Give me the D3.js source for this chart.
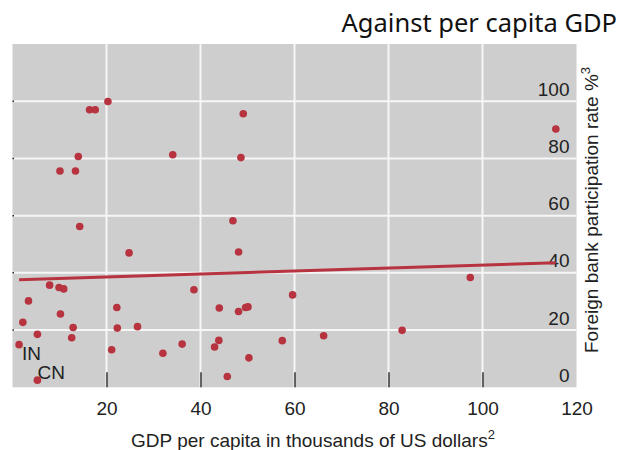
<!DOCTYPE html>
<html>
<head>
<meta charset="utf-8">
<script src="https://cdn.jsdelivr.net/npm/d3@7"></script>
<style>
  html, body { margin: 0; padding: 0; background: #ffffff; }
  svg { display: block; }
</style>
</head>
<body>
<svg id="chart" width="625" height="450"></svg>
<script>
// ---- data ----
const gdpPerCapita = [20.3, 16.4, 17.6, 14.0, 10.1, 13.4, 14.3, 24.8, 7.9, 9.9, 10.9, 3.4, 22.2, 10.2, 2.2, 12.9, 22.3, 26.6, 5.3, 12.6, 1.4, 21.1, 5.3, 32.0, 49.1, 34.1, 48.6, 46.9, 48.1, 38.6, 59.6, 44.0, 48.1, 49.6, 50.1, 43.9, 43.0, 36.1, 57.4, 50.3, 45.7, 66.2, 82.9, 97.4, 115.6];
const foreignBankRate = [99.9, 97.0, 97.0, 80.7, 75.6, 75.6, 56.2, 47.0, 35.7, 34.9, 34.4, 30.2, 27.9, 25.6, 22.7, 20.9, 20.7, 21.2, 18.5, 17.3, 14.9, 13.1, 2.5, 11.9, 95.6, 81.3, 80.3, 58.2, 47.3, 34.1, 32.3, 27.7, 26.5, 27.9, 28.1, 16.4, 14.1, 15.1, 16.3, 10.3, 3.8, 18.0, 19.9, 38.4, 90.3];
const countryCodes = ["", "", "", "", "", "", "", "", "", "", "", "", "", "", "", "", "", "", "", "", "IN", "", "CN", "", "", "", "", "", "", "", "", "", "", "", "", "", "", "", "", "", "", "", "", "", ""];
const trendX = [1.4, 115.6];
const trendY = [37.6, 43.5];
const xTicks = [20, 40, 60, 80, 100, 120];
const yTicks = [0, 20, 40, 60, 80, 100];
const titleText = "Against per capita GDP";
const xTitle = "GDP per capita in thousands of US dollars";
const xTitleSup = "2";
const yTitle = "Foreign bank participation rate %";
const yTitleSup = "3";

// ---- layout ----
const RED = "#b6333f";
const BG = "#cdcecd";
const pLeft = 12.5, pRight = 576.5, pTop = 44, pBottom = 387.3;
const svg = d3.select("#chart");
const x = d3.scaleLinear().domain([0, 120]).range([pLeft, pRight]);
const y = d3.scaleLinear().domain([0, 120]).range([pBottom, pTop]);
const font = "'Liberation Sans', Arial, sans-serif";

svg.append("rect").attr("x", pLeft).attr("y", pTop)
  .attr("width", pRight - pLeft).attr("height", pBottom - pTop)
  .attr("fill", BG);

// gridlines
svg.append("g").selectAll("line").data(xTicks.filter(d => d < 120)).join("line")
  .attr("x1", d => x(d)).attr("x2", d => x(d)).attr("y1", pTop).attr("y2", pBottom)
  .attr("stroke", "#f6f6f6").attr("stroke-width", 2);
svg.append("g").selectAll("line").data(yTicks.filter(d => d > 0)).join("line")
  .attr("y1", d => y(d)).attr("y2", d => y(d)).attr("x1", pLeft).attr("x2", pRight)
  .attr("stroke", "#f6f6f6").attr("stroke-width", 2);

// small left ticks
svg.append("g").selectAll("line").data(yTicks.filter(d => d > 0)).join("line")
  .attr("y1", d => y(d)).attr("y2", d => y(d)).attr("x1", pLeft).attr("x2", pLeft + 1.5)
  .attr("stroke", "#222").attr("stroke-width", 1.5);

// x axis (inward ticks)
const xAxis = d3.axisBottom(x).tickValues(xTicks).tickSizeInner(-15).tickSizeOuter(0).tickPadding(0);
const gx = svg.append("g").attr("transform", `translate(0,${pBottom})`).call(xAxis);
gx.select(".domain").remove();
gx.selectAll(".tick line").attr("stroke", "#333").attr("stroke-width", 1.5)
  .attr("display", d => d >= 120 ? "none" : null);
gx.selectAll(".tick text").attr("y", 28).attr("dy", 0)
  .attr("font-family", font).attr("font-size", 19).attr("fill", "#222");

// y axis (labels inside on the right, above gridlines)
const yAxis = d3.axisLeft(y).tickValues(yTicks).tickSize(0).tickPadding(7);
const gy = svg.append("g").attr("transform", `translate(${pRight},0)`).call(yAxis);
gy.select(".domain").remove();
gy.selectAll(".tick text").attr("y", -12)
  .attr("font-family", font).attr("font-size", 19).attr("fill", "#222");

// trend line
svg.append("path")
  .datum(trendX.map((d, i) => [d, trendY[i]]))
  .attr("d", d3.line().x(d => x(d[0])).y(d => y(d[1])))
  .attr("fill", "none").attr("stroke", RED).attr("stroke-width", 3);

// points
const pts = gdpPerCapita.map((d, i) => ({ gx: d, fb: foreignBankRate[i], code: countryCodes[i] }));
svg.append("g").selectAll("circle").data(pts).join("circle")
  .attr("cx", d => x(d.gx)).attr("cy", d => y(d.fb)).attr("r", 3.8)
  .attr("fill", RED);

// country labels
const labelOffset = { IN: [3, 15], CN: [0, -1] };
svg.append("g").selectAll("text").data(pts.filter(d => d.code)).join("text")
  .attr("x", d => x(d.gx) + labelOffset[d.code][0])
  .attr("y", d => y(d.fb) + labelOffset[d.code][1])
  .attr("font-family", font).attr("font-size", 19).attr("fill", "#222")
  .text(d => d.code);

// title
svg.append("text").attr("x", 617).attr("y", 32).attr("text-anchor", "end")
  .attr("font-family", "'Noto Sans', 'Open Sans', sans-serif").attr("font-size", 25.5)
  .attr("fill", "#111").text(titleText);

// x axis title
const xt = svg.append("text").attr("x", 313).attr("y", 447).attr("text-anchor", "middle")
  .attr("font-family", font).attr("font-size", 19).attr("fill", "#222");
xt.append("tspan").text(xTitle);
xt.append("tspan").attr("dy", -8).attr("font-size", 13).text(xTitleSup);

// y axis title
const yt = svg.append("text").attr("transform", "translate(598,210) rotate(-90)")
  .attr("text-anchor", "middle")
  .attr("font-family", font).attr("font-size", 19).attr("fill", "#222");
yt.append("tspan").text(yTitle);
yt.append("tspan").attr("dy", -8).attr("font-size", 13).text(yTitleSup);
</script>
</body>
</html>
